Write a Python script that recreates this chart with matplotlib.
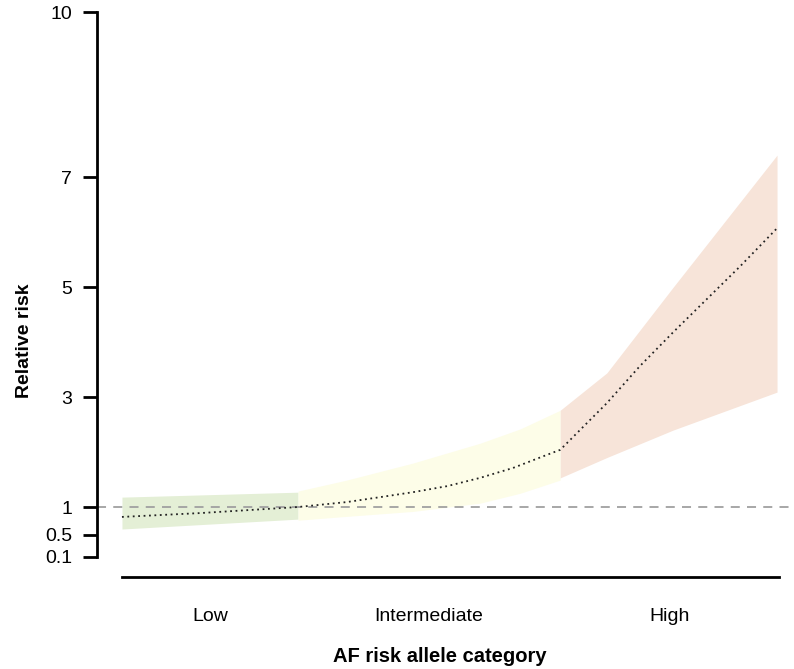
import numpy as np
import matplotlib
matplotlib.use("Agg")
import matplotlib.pyplot as plt

plt.rcParams["font.family"] = ["Liberation Sans", "DejaVu Sans"]

# ----------------------------------------
# Data (x = risk score percentile, 0-100)
# ----------------------------------------
line_x = [0, 11.9, 26.8, 34.2, 39.3, 44.3, 49.5, 54.5, 59.5, 64.7, 66.7,
          73.8, 78.8, 83.9, 89.0, 94.1, 99.7]
line_y = [0.82, 0.89, 1.0, 1.09, 1.18, 1.27, 1.38, 1.53, 1.71, 1.95, 2.04,
          2.89, 3.56, 4.18, 4.78, 5.38, 6.07]

low_x = [0, 26.8]
low_upper = [1.18, 1.27]
low_lower = [0.6, 0.78]

mid_x = [26.8, 34.2, 44.3, 54.5, 60.6, 66.7]
mid_upper = [1.29, 1.49, 1.8, 2.16, 2.42, 2.76]
mid_lower = [0.76, 0.83, 0.92, 1.07, 1.25, 1.49]

high_x = [66.7, 73.8, 83.9, 99.7]
high_upper = [2.76, 3.44, 5.0, 7.4]
high_lower = [1.53, 1.9, 2.4, 3.09]

categories = ["Low", "Intermediate", "High"]
category_pos = [13.4, 46.7, 83.4]

y_ticks = [0.1, 0.5, 1, 3, 5, 7, 10]
y_labels = ["0.1", "0.5", "1", "3", "5", "7", "10"]

# ----------------------------------------
# Plot
# ----------------------------------------
fig = plt.figure(figsize=(7.94, 6.69), dpi=100)
ax = fig.add_axes([97 / 794, (669 - 590) / 669, 697 / 794, 585 / 669])

ax.fill_between(low_x, low_lower, low_upper, color="#e4efd6", linewidth=0)
ax.fill_between(mid_x, mid_lower, mid_upper, color="#fdfde8", linewidth=0)
ax.fill_between(high_x, high_lower, high_upper, color="#f7e4d9", linewidth=0)

ax.axhline(1, color="#a0a0a0", linestyle=(0, (5, 4)), linewidth=1.3)
ax.plot(line_x, line_y, color="#222222", linestyle=(0, (1, 2)), linewidth=1.3)

# x baseline
ax.plot([0, 100], [-0.27, -0.27], color="black", linewidth=2, clip_on=False)

ax.set_xlim(-3.8, 102.28)
ax.set_ylim(-0.509, 10.13)

for s in ["top", "right", "bottom"]:
    ax.spines[s].set_visible(False)
ax.spines["left"].set_linewidth(2)
ax.spines["left"].set_bounds(0.1, 10)

ax.set_yticks(y_ticks)
ax.set_yticklabels(y_labels, fontsize=14)
ax.tick_params(axis="y", length=10, width=2, pad=8)
ax.set_xticks([])

for pos, lab in zip(category_pos, categories):
    ax.text(pos, -1.0, lab, ha="center", va="center", fontsize=14)

fig.text(25 / 794, 1 - 341 / 669, "Relative risk", rotation=90,
         ha="center", va="center", fontsize=14, fontweight="bold")
fig.text(440 / 794, 1 - 657 / 669, "AF risk allele category",
         ha="center", va="center", fontsize=14.5, fontweight="bold")

fig.savefig("out.png", dpi=100)
